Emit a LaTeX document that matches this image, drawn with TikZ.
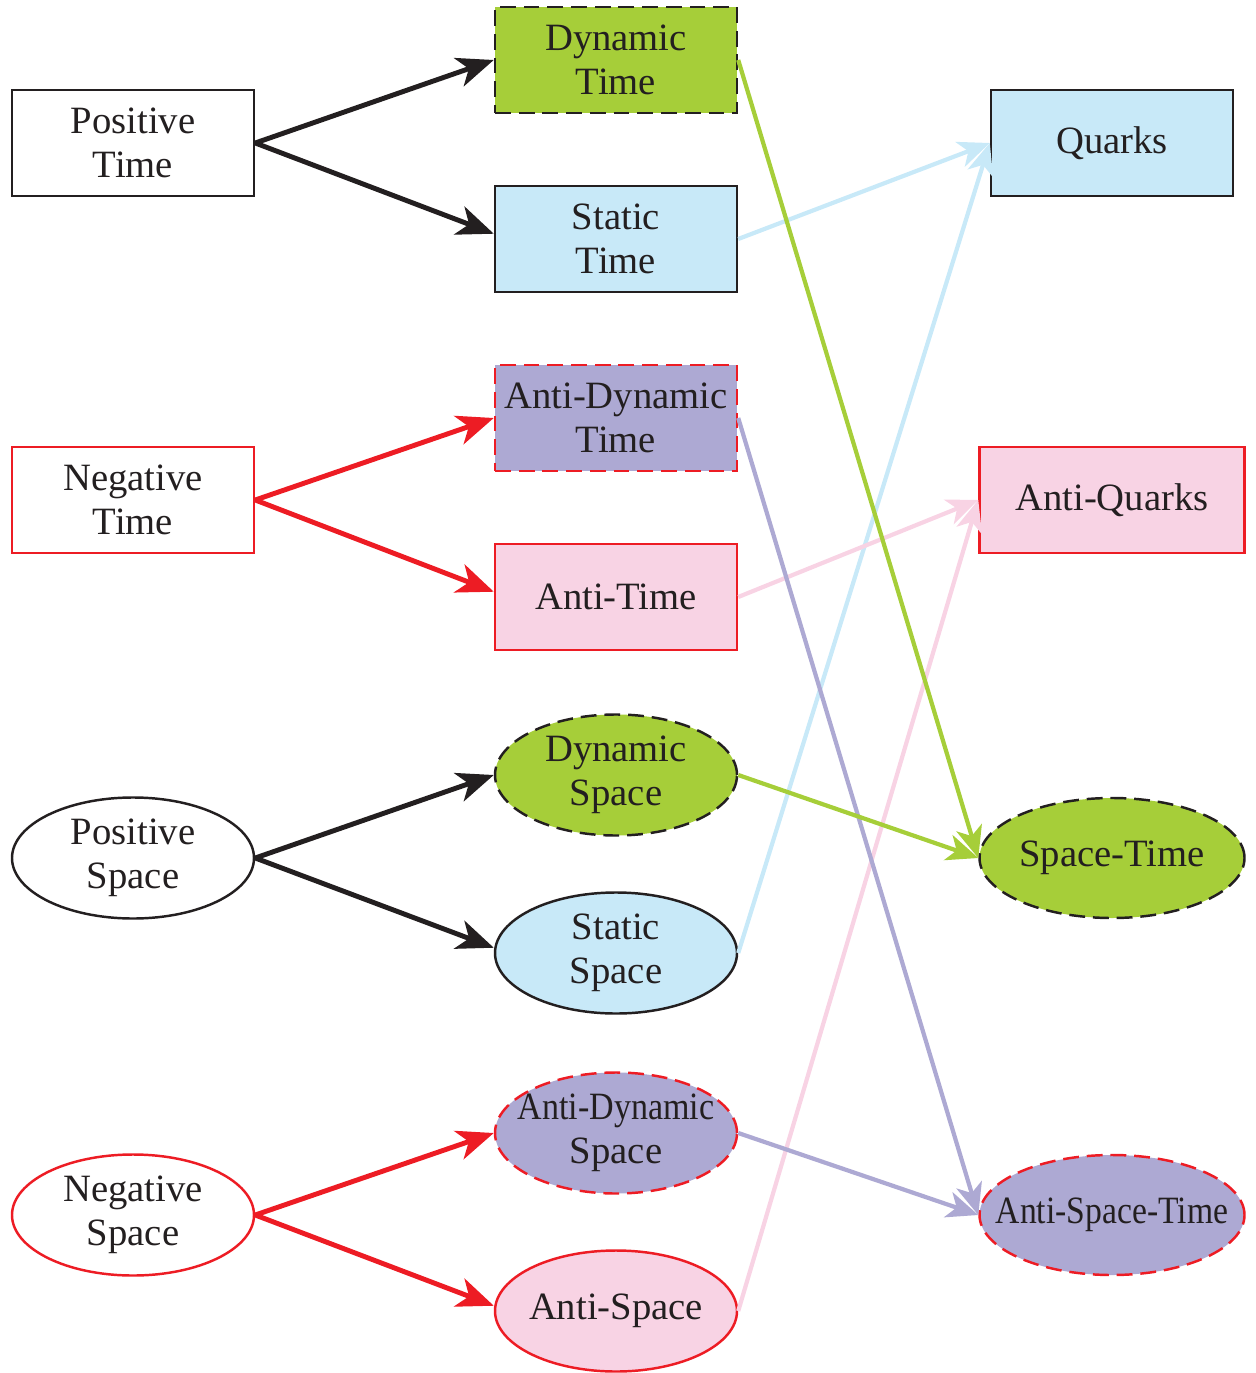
\documentclass[tikz,border=0pt]{standalone}
\usepackage{fontspec}
\setmainfont{Liberation Serif}
\usetikzlibrary{shapes.geometric,arrows.meta}
\definecolor{ink}{HTML}{231F20}
\definecolor{lime}{HTML}{A6CE39}
\definecolor{sky}{HTML}{C8E9F8}
\definecolor{lilac}{HTML}{ADA9D3}
\definecolor{rose}{HTML}{F8D3E4}
\definecolor{alarm}{HTML}{ED1C24}

\begin{document}
\begin{tikzpicture}[line width=1.4pt, text=ink, font=\fontsize{22}{25}\selectfont,
    box/.style={draw=ink, rectangle, align=center, minimum width=4.84cm, minimum height=2.12cm},
    oval/.style={draw=ink, ellipse, align=center, inner sep=0pt, inner xsep=-20pt, minimum width=4.84cm, minimum height=2.42cm},
    wide/.style={minimum width=5.3cm},
    neg/.style={draw=alarm},
    broken/.style={dash pattern=on 9pt off 4.5pt},
    arr/.style={-{Stealth[length=21pt,width=17pt,inset=6pt]}, line width=2.8pt},
    link/.style={-{Stealth[length=18pt,width=15pt,inset=5pt]}, line width=2.4pt}]
    \useasboundingbox (0,0) rectangle (25.1,-27.46);
    % sources
    \node [box]      (ptime)  at (2.66,-2.86)  {Positive\\Time};
    \node [box,neg]  (ntime)  at (2.66,-10)    {Negative\\Time};
    \node [oval]     (pspace) at (2.66,-17.16) {Positive\\Space};
    \node [oval,neg] (nspace) at (2.66,-24.3)  {Negative\\Space};
    % middle column
    \node [box,broken,fill=lime]      (dtime)   at (12.32,-1.2)   {Dynamic\\Time};
    \node [box,fill=sky]              (stime)   at (12.32,-4.78)  {Static\\Time};
    \node [box,neg,broken,fill=lilac] (adtime)  at (12.32,-8.36)  {Anti-Dynamic\\Time};
    \node [box,neg,fill=rose]         (atime)   at (12.32,-11.94) {Anti-Time};
    \node [oval,broken,fill=lime]     (dspace)  at (12.32,-15.5)  {Dynamic\\Space};
    \node [oval,fill=sky]             (sspace)  at (12.32,-19.06) {Static\\Space};
    \node [oval,neg,broken,fill=lilac](adspace) at (12.32,-22.66) {\scalebox{0.88}[1]{Anti-Dynamic}\\Space};
    \node [oval,neg,fill=rose]        (aspace)  at (12.32,-26.22) {Anti-Space};
    % results
    \node [box,fill=sky]                        (quarks)    at (22.24,-2.86)  {Quarks};
    \node [box,wide,neg,fill=rose]              (aquarks)   at (22.24,-10)    {Anti-Quarks};
    \node [oval,wide,broken,fill=lime,minimum height=2.4cm]     (spacetime)  at (22.24,-17.16) {Space-Time};
    \node [oval,wide,neg,broken,fill=lilac,minimum height=2.4cm](aspacetime) at (22.24,-24.3)  {\scalebox{0.87}[1]{Anti-Space-Time}};
    % splits
    \draw [arr,ink]   (ptime.east)  -- (dtime.west);
    \draw [arr,ink]   (ptime.east)  -- ([yshift=3pt]stime.west);
    \draw [arr,alarm] (ntime.east)  -- (adtime.west);
    \draw [arr,alarm] (ntime.east)  -- ([yshift=3pt]atime.west);
    \draw [arr,ink]   (pspace.east) -- (dspace.west);
    \draw [arr,ink]   (pspace.east) -- ([yshift=3pt]sspace.west);
    \draw [arr,alarm] (nspace.east) -- (adspace.west);
    \draw [arr,alarm] (nspace.east) -- ([yshift=3pt]aspace.west);
    % links
    \draw [link,sky]   (stime.east)   -- (quarks.west);
    \draw [link,sky]   (sspace.east)  -- (quarks.west);
    \draw [link,rose]  (atime.east)   -- (aquarks.west);
    \draw [link,rose]  (aspace.east)  -- (aquarks.west);
    \draw [link,lilac] (adtime.east)  -- (aspacetime.west);
    \draw [link,lilac] (adspace.east) -- (aspacetime.west);
    \draw [link,lime]  (dtime.east)   -- (spacetime.west);
    \draw [link,lime]  (dspace.east)  -- (spacetime.west);
\end{tikzpicture}
\end{document}
